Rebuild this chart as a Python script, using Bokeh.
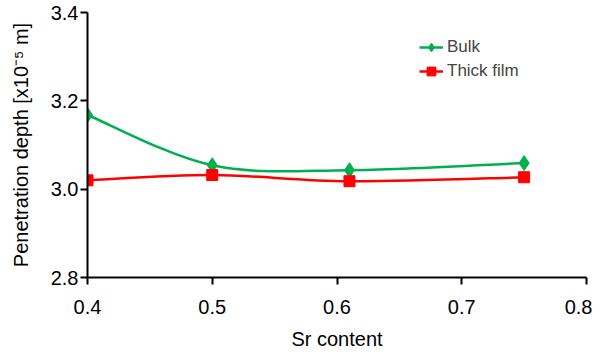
import numpy as np
from bokeh.plotting import figure
from bokeh.models import Range1d, FixedTicker, Legend, LegendItem, CustomJSTickFormatter
from bokeh.embed import file_html
from bokeh.resources import INLINE

sr_content = [0.40, 0.50, 0.61, 0.75]
bulk = [3.168, 3.054, 3.043, 3.059]
thick_film = [3.020, 3.032, 3.018, 3.027]
x_ticks = [0.4, 0.5, 0.6, 0.7, 0.8]
y_ticks = [2.8, 3.0, 3.2, 3.4]

GREEN = "#00b04f"
RED = "#ff0000"
FONT = "Liberation Sans"

p = figure(width=592, height=354, output_backend="svg", toolbar_location=None,
           x_range=Range1d(0.4, 0.8), y_range=Range1d(2.8, 3.4),
           min_border_left=87, min_border_top=12, min_border_right=6, min_border_bottom=77)
p.outline_line_color = None
p.grid.visible = False
p.background_fill_color = "white"
p.border_fill_color = "white"

for ax in (p.xaxis[0], p.yaxis[0]):
    ax.axis_line_width = 2
    ax.axis_line_color = "black"
    ax.major_tick_line_width = 2
    ax.major_tick_out = 7
    ax.major_tick_in = 0
    ax.minor_tick_line_color = None
    ax.major_label_text_font = FONT
    ax.major_label_text_font_size = "20px"
    ax.major_label_text_color = "black"
    ax.axis_label_text_font = FONT
    ax.axis_label_text_font_size = "20px"
    ax.axis_label_text_font_style = "normal"
    ax.axis_label_text_color = "black"

p.xaxis[0].ticker = FixedTicker(ticks=x_ticks)
p.yaxis[0].ticker = FixedTicker(ticks=y_ticks)
p.xaxis[0].formatter = CustomJSTickFormatter(code="return tick.toFixed(1);")
p.yaxis[0].formatter = CustomJSTickFormatter(code="return tick.toFixed(1);")
p.xaxis[0].axis_label = "Sr content"
p.yaxis[0].axis_label = "Penetration depth [x10\u207b\u2075 m]"
p.xaxis[0].major_label_standoff = 15
p.xaxis[0].axis_label_standoff = 11
p.yaxis[0].major_label_standoff = 2
p.yaxis[0].axis_label_standoff = 16


def smooth(xs, ys):
    xs = np.asarray(xs, float)
    ys = np.asarray(ys, float)
    n = len(xs)
    x0, y0, x1, y1, cx0, cy0, cx1, cy1 = ([] for _ in range(8))
    for i in range(n - 1):
        im = max(i - 1, 0)
        ip = min(i + 2, n - 1)
        x0.append(xs[i]); y0.append(ys[i])
        x1.append(xs[i + 1]); y1.append(ys[i + 1])
        cx0.append(xs[i] + (xs[i + 1] - xs[im]) / 6)
        cy0.append(ys[i] + (ys[i + 1] - ys[im]) / 6)
        cx1.append(xs[i + 1] - (xs[ip] - xs[i]) / 6)
        cy1.append(ys[i + 1] - (ys[ip] - ys[i]) / 6)
    return dict(x0=x0, y0=y0, x1=x1, y1=y1, cx0=cx0, cy0=cy0, cx1=cx1, cy1=cy1)


p.bezier(line_color=GREEN, line_width=2.5, **smooth(sr_content, bulk))
p.bezier(line_color=RED, line_width=2.5, **smooth(sr_content, thick_film))
b_pts = p.scatter(sr_content, bulk, marker="diamond", size=15, color=GREEN)
t_pts = p.scatter(sr_content, thick_film, marker="square", size=11, color=RED)

b_line = p.line([sr_content[0]], [bulk[0]], line_color=GREEN, line_width=2.5, visible=False)
t_line = p.line([sr_content[0]], [thick_film[0]], line_color=RED, line_width=2.5, visible=False)

legend = Legend(items=[LegendItem(label="Bulk", renderers=[b_line, b_pts]),
                       LegendItem(label="Thick film", renderers=[t_line, t_pts])],
                location=(332, 195), border_line_color=None, background_fill_alpha=0,
                label_text_font=FONT, label_text_font_size="17px",
                glyph_width=24, glyph_height=22, label_height=22,
                spacing=2, label_standoff=4, padding=4, margin=0)
p.add_layout(legend, "center")

open("out.html", "w").write(file_html(p, INLINE))
